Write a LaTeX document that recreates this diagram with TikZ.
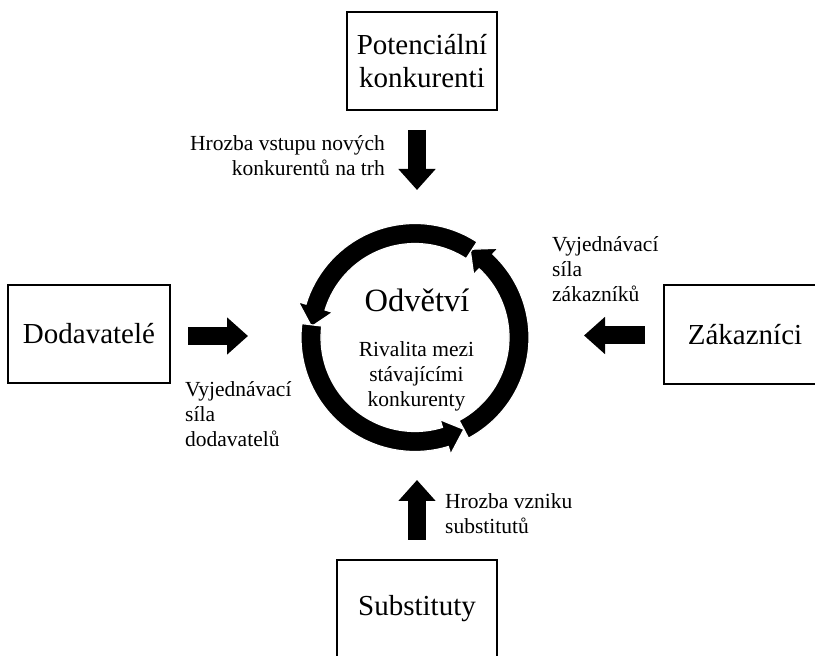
\documentclass[tikz,border=0pt]{standalone}
\usepackage{fontspec}
\setmainfont{Liberation Serif}
\usetikzlibrary{arrows.meta,calc}

% stacked lines whose baseline is that of the first line
\newcommand\leftlines[1]{\vtop{\halign{##\hfil\cr#1\crcr}}}
\newcommand\rightlines[1]{\vtop{\halign{\hfil##\cr#1\crcr}}}
\newcommand\centerlines[1]{\vtop{\halign{\hfil##\hfil\cr#1\crcr}}}

\tikzset{
  forcebox/.style={draw=black, line width=1.6pt, fill=white, inner sep=0pt,
    align=center, font=\fontsize{29}{33}\selectfont},
  smalltext/.style={inner sep=0pt, font=\fontsize{21.5}{25}\selectfont},
  blockarrow/.style={line width=18pt, -{Triangle[width=36pt,length=21pt]}},
  ringarrow/.style={fill=black, draw=white, line width=1.2pt, line join=miter},
}

% one arrow of the ring: from angle #1 to head base at #2
\newcommand\ringpiece[2]{%
  \filldraw[ringarrow]
    ($(C)+(#1:114pt)$) arc[start angle=#1, end angle=#2, radius=114pt]
    -- ($(C)+(#2:122pt)$)
    -- ($(C)+({#2+11}:104pt)$)
    -- ($(C)+(#2:86pt)$)
    -- ($(C)+(#2:94pt)$) arc[start angle=#2, end angle=#1, radius=94pt]
    -- cycle;}

\begin{document}
\begin{tikzpicture}[x=1pt, y=1pt]
  \clip (0,0) rectangle (815,656);
  \fill[white] (0,0) rectangle (815,656);

  % the five forces
  \node[forcebox, minimum width=150pt, minimum height=98pt] (pot) at (422,595)
    {Potenciální\\konkurenti};
  \node[forcebox, minimum width=162pt, minimum height=98pt] (dod) at (89,322)
    {Dodavatelé};
  \node[forcebox, minimum width=162pt, minimum height=99pt] (zak) at (745,321.5)
    {Zákazníci};
  \node[forcebox, minimum width=160pt, minimum height=98pt] (sub) at (417,47)
    {Substituty};

  % the industry in the middle
  \coordinate (C) at (415,318.5);
  \ringpiece{-62}{47}
  \ringpiece{57}{163}
  \ringpiece{173}{287}

  \node[inner sep=0pt, anchor=base, font=\fontsize{32.5}{36}\selectfont]
    (odv) at (417,344) {Odvětví};
  \node[smalltext, anchor=base] (riv) at (416.5,299)
    {\centerlines{Rivalita mezi\cr stávajícími\cr konkurenty}};

  % block arrows towards the industry
  \coordinate (topS) at (417,526);
  \coordinate (topE) at (417,466);
  \coordinate (leftS) at (188,320);
  \coordinate (leftE) at (248,320);
  \coordinate (rightS) at (645,320.5);
  \coordinate (rightE) at (584,320.5);
  \coordinate (botS) at (417,116);
  \coordinate (botE) at (417,176);
  \draw[blockarrow] (topS) -- (topE);
  \draw[blockarrow] (leftS) -- (leftE);
  \draw[blockarrow] (rightS) -- (rightE);
  \draw[blockarrow] (botS) -- (botE);

  % labels of the forces
  \node[smalltext, anchor=base east] (lblTop) at (385,505)
    {\rightlines{Hrozba vstupu nových\cr konkurentů na trh}};
  \node[smalltext, anchor=base west] (lblLeft) at (185,259)
    {\leftlines{Vyjednávací\cr síla\cr dodavatelů}};
  \node[smalltext, anchor=base west] (lblRight) at (552,404)
    {\leftlines{Vyjednávací\cr síla\cr zákazníků}};
  \node[smalltext, anchor=base west] (lblBottom) at (445,147)
    {\leftlines{Hrozba vzniku\cr substitutů}};
\end{tikzpicture}
\end{document}
